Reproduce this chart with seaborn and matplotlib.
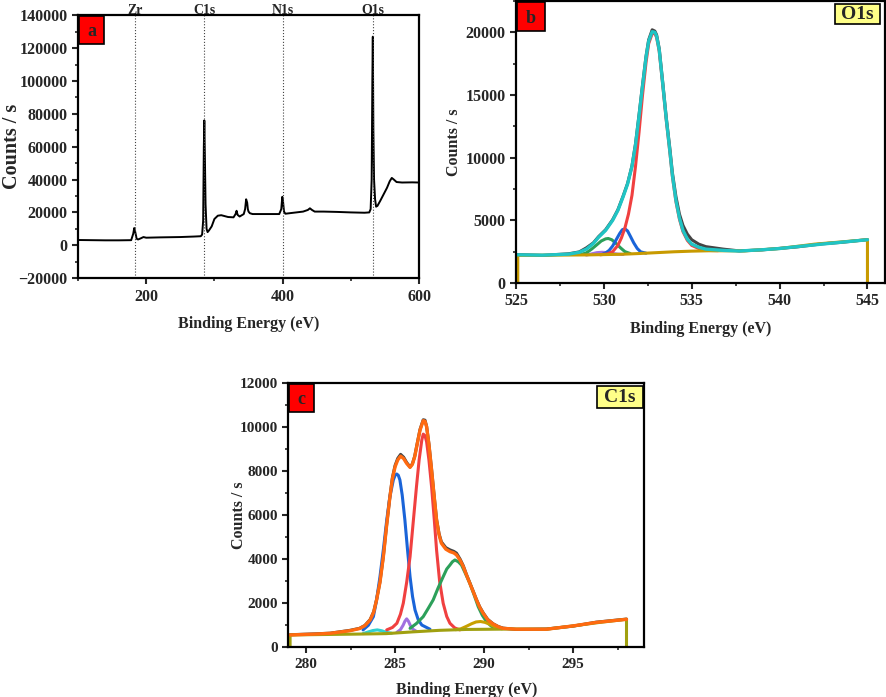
import seaborn as sns
import matplotlib.pyplot as plt
from matplotlib.patches import Rectangle
from matplotlib.ticker import MultipleLocator

# ---- panel a: survey spectrum ----
survey_be = [100, 120, 140, 160, 178, 181, 182.5, 184, 186, 188, 192, 196, 200, 220, 250,
             270, 280, 282, 283.5, 284.5, 285.2, 286, 287, 288.5, 290, 292, 296, 300, 305, 310,
             320, 328, 331, 332.5, 334, 337, 343, 345, 346.5, 348, 349, 350, 352, 356, 370,
             385, 395, 398, 399.5, 400.5, 402, 404, 410, 420, 430, 437, 440, 443, 447, 460,
             480, 500, 520, 527, 529, 530.5, 531.5, 532.2, 533, 534, 535.5, 537, 539, 543, 548,
             553, 557, 560, 563, 567, 575, 590, 600]
survey_cps = [3200, 3100, 3000, 3000, 3100, 7000, 10500, 8000, 4000, 3500, 4200, 5000, 4600, 4800, 5000,
              5300, 5500, 6500, 15000, 60000, 76000, 55000, 25000, 10000, 8000, 9000, 11500, 16000, 18000, 18300,
              17200, 17000, 19000, 21000, 18500, 17500, 19000, 22000, 28000, 26000, 22000, 20500, 19500, 19000, 19000,
              19000, 19000, 22000, 29500, 27000, 20500, 19200, 19500, 20000, 20500, 21500, 22500, 21500, 20500, 20500,
              20300, 20000, 19800, 20000, 22000, 40000, 100000, 127000, 70000, 40000, 28000, 23500, 24000, 27000, 31000,
              35000, 39000, 41000, 40000, 38500, 38200, 38300, 38200]
peak_names = ["Zr", "C1s", "N1s", "O1s"]
peak_pos = [183, 285, 400, 532]

# ---- panel b: O1s ----
o1s_be = [525, 526.5, 528, 528.6, 529, 529.4, 529.7, 530.1, 530.5, 530.8, 531.1, 531.35, 531.6, 531.8,
          532.0, 532.2, 532.4, 532.55, 532.75, 532.9, 533.0, 533.15, 533.35, 533.55, 533.75, 533.9,
          534.1, 534.3, 534.5, 534.75, 535.0, 535.4, 535.8, 536.8, 537.7, 539, 540, 541, 542.4, 543.5, 545]
o1s_env = [2250, 2220, 2300, 2450, 2700, 3150, 3650, 4200, 5000, 5800, 6900, 7900, 9300, 11000,
           13300, 15700, 18000, 19300, 20050, 20000, 19700, 18600, 15900, 13100, 10600, 8600,
           6600, 5200, 4200, 3500, 3100, 2850, 2700, 2600, 2550, 2650, 2750, 2900, 3100, 3250, 3450]
o1s_raw = [2270, 2200, 2330, 2480, 2800, 3200, 3700, 4250, 5050, 5850, 6950, 7950, 9350, 11100,
           13400, 15800, 18100, 19400, 20200, 20100, 19800, 18700, 16000, 13200, 10800, 8800,
           6900, 5500, 4600, 3900, 3450, 3100, 2900, 2700, 2560, 2640, 2760, 2880, 3120, 3240, 3460]
o1s_red_be = [529.8, 530.2, 530.5, 530.8, 531.0, 531.2, 531.4, 531.6, 531.8, 532.0, 532.2, 532.4,
              532.55, 532.75, 532.9, 533.0, 533.15, 533.35, 533.55, 533.75, 533.9, 534.1, 534.3,
              534.5, 534.75, 535.0, 535.4, 535.8, 536.5]
o1s_red = [2250, 2320, 2500, 3000, 3600, 4400, 5500, 7000, 9300, 12000, 15000, 17600,
           19100, 19900, 19900, 19600, 18500, 15800, 13000, 10500, 8500, 6500, 5100,
           4100, 3400, 3000, 2750, 2600, 2580]
o1s_blue_be = [529.9, 530.1, 530.3, 530.5, 530.7, 530.9, 531.05, 531.2, 531.35, 531.5, 531.7, 531.9, 532.1, 532.4]
o1s_blue = [2280, 2400, 2600, 2950, 3450, 3950, 4250, 4320, 4150, 3750, 3200, 2750, 2480, 2380]
o1s_green_be = [528.7, 529.0, 529.3, 529.6, 529.85, 530.1, 530.25, 530.45, 530.7, 530.95, 531.2, 531.5]
o1s_green = [2280, 2400, 2700, 3050, 3350, 3520, 3550, 3450, 3150, 2800, 2500, 2350]
o1s_purple_be = [529.0, 529.3, 529.6, 529.9, 530.2, 530.5, 530.8, 531.1]
o1s_purple = [2230, 2320, 2420, 2450, 2420, 2350, 2300, 2280]
o1s_bg_be = [525.1, 525.1, 527, 529, 531, 532, 533, 534, 535, 536, 537, 538, 540, 542, 545, 545]
o1s_bg = [0, 2200, 2220, 2240, 2290, 2350, 2420, 2490, 2540, 2570, 2570, 2560, 2750, 3100, 3450, 0]

# ---- panel c: C1s ----
c1s_be = [279.1, 280.5, 281.35, 282.47, 283.0, 283.3, 283.6, 283.8, 283.96, 284.15, 284.34, 284.52,
          284.71, 284.85, 285.0, 285.15, 285.31, 285.48, 285.65, 285.84, 285.97, 286.1, 286.25, 286.4,
          286.58, 286.68, 286.77, 286.9, 287.05, 287.2, 287.33, 287.47, 287.6, 287.85, 288.08, 288.3,
          288.45, 288.65, 288.83, 289.0, 289.2, 289.4, 289.57, 289.75, 289.95, 290.2, 290.5, 290.8,
          291.07, 291.8, 293.5, 295.0, 296.3, 298.0]
c1s_env = [560, 600, 635, 755, 850, 980, 1240, 1600, 2150, 2950, 4110, 5500,
           6830, 7650, 8190, 8500, 8670, 8560, 8340, 8160, 8300, 8640, 9250, 9850,
           10280, 10250, 10000, 9200, 8040, 6800, 5770, 5100, 4720, 4450, 4340, 4280,
           4190, 3950, 3660, 3300, 2900, 2500, 2150, 1820, 1540, 1250, 1060, 930,
           860, 820, 820, 970, 1130, 1270]
c1s_raw = [570, 610, 640, 770, 860, 990, 1260, 1620, 2170, 2970, 4130, 5520,
           6850, 7700, 8250, 8570, 8750, 8620, 8380, 8180, 8320, 8660, 9280, 9880,
           10320, 10300, 10020, 9220, 8060, 6820, 5800, 5150, 4780, 4520, 4420, 4350,
           4270, 4000, 3700, 3320, 2920, 2520, 2170, 1840, 1560, 1270, 1070, 940,
           870, 810, 830, 960, 1140, 1280]
c1s_blue_be = [283.2, 283.5, 283.78, 283.95, 284.15, 284.35, 284.53, 284.7, 284.9, 285.0, 285.09,
               285.18, 285.27, 285.4, 285.55, 285.7, 285.84, 285.98, 286.12, 286.3, 286.5, 286.96]
c1s_blue = [790, 1000, 1390, 2100, 3200, 4500, 5770, 6800, 7590, 7800, 7860,
            7800, 7590, 6900, 5770, 4400, 3200, 2300, 1690, 1250, 1010, 820]
c1s_red_be = [284.53, 284.85, 285.1, 285.3, 285.46, 285.65, 285.84, 286.02, 286.2, 286.35, 286.5, 286.58,
              286.68, 286.77, 286.9, 287.05, 287.2, 287.33, 287.5, 287.7, 287.9, 288.08, 288.35, 288.64]
c1s_red = [790, 900, 1090, 1500, 2000, 2950, 4110, 5700, 7280, 8500, 9400, 9670,
           9600, 9320, 8500, 7280, 5800, 4410, 3000, 2000, 1400, 1090, 880, 790]
c1s_green_be = [285.84, 286.2, 286.58, 286.85, 287.14, 287.42, 287.7, 287.9, 288.08, 288.22, 288.36,
                288.55, 288.73, 288.95, 289.2, 289.45, 289.67, 289.9, 290.14, 290.4, 290.7]
c1s_green = [860, 1080, 1390, 1750, 2150, 2700, 3200, 3550, 3730, 3880, 3960,
             3880, 3730, 3350, 2900, 2350, 1840, 1450, 1160, 960, 860]
c1s_purple_be = [285.1, 285.3, 285.45, 285.55, 285.65, 285.75, 285.85, 286.0, 286.2]
c1s_purple = [680, 800, 1000, 1180, 1290, 1180, 1000, 820, 720]
c1s_cyan_be = [283.2, 283.5, 283.75, 284.0, 284.25, 284.5, 284.8]
c1s_cyan = [620, 700, 760, 790, 750, 680, 640]
c1s_gold_be = [288.4, 288.7, 289.0, 289.3, 289.55, 289.8, 290.05, 290.3, 290.6, 291.0]
c1s_gold = [800, 840, 950, 1070, 1150, 1170, 1130, 1050, 930, 840]
c1s_bg_be = [279.1, 279.1, 281, 283, 284.5, 286, 287.5, 289, 290.5, 291.8, 293.5, 295, 296.5, 298, 298]
c1s_bg = [0, 560, 580, 600, 620, 700, 770, 810, 820, 830, 820, 970, 1130, 1270, 0]

sns.set_style("ticks")
plt.rcParams['font.family'] = ['Liberation Serif', 'DejaVu Serif']
plt.rcParams['font.weight'] = 'bold'
plt.rcParams['axes.labelweight'] = 'bold'
plt.rcParams['axes.linewidth'] = 1.6

fig = plt.figure(figsize=(8.86, 6.97), dpi=100)
ax_a = fig.add_axes([0.088, 0.601, 0.385, 0.377])
ax_b = fig.add_axes([0.5824, 0.594, 0.4165, 0.4046])
ax_c = fig.add_axes([0.3254, 0.0713, 0.4018, 0.3796])


def line(ax, x, y, color, lw):
    sns.lineplot(x=x, y=y, ax=ax, color=color, lw=lw, sort=False, estimator=None)


def style(ax, tick_size):
    ax.tick_params(which='major', direction='out', length=4, width=1.5, labelsize=tick_size)
    ax.tick_params(which='minor', direction='out', length=2.5, width=1.2)
    for lab in ax.get_xticklabels() + ax.get_yticklabels():
        lab.set_fontweight('bold')
    for s in ax.spines.values():
        s.set_visible(True)
        s.set_linewidth(1.6)
        s.set_color('black')


def tag(ax, letter, w, h):
    ax.add_patch(Rectangle((0.003, 1 - h - 0.004), w, h, transform=ax.transAxes, fc='#ff0000',
                           ec='black', lw=1.2, clip_on=False, zorder=10))
    ax.text(0.003 + w / 2, 1 - h / 2 - 0.01, letter, transform=ax.transAxes, ha='center', va='center',
            fontsize=13, fontweight='bold', zorder=11)


def label_box(ax, text, x0, w, h):
    ax.add_patch(Rectangle((x0, 1 - h - 0.012), w, h, transform=ax.transAxes, fc='#ffff88',
                           ec='black', lw=1.2, clip_on=False, zorder=10))
    ax.text(x0 + w / 2, 1 - h / 2 - 0.012, text, transform=ax.transAxes, ha='center', va='center',
            fontsize=14, fontweight='bold', zorder=11)


# panel a
line(ax_a, survey_be, survey_cps, 'black', 1.4)
for name, pos in zip(peak_names, peak_pos):
    ax_a.axvline(pos, color='#444444', ls=':', lw=0.8)
    ax_a.text(pos, 141000, name, ha='center', va='baseline', fontsize=10, fontweight='bold')
ax_a.set_xlim(100, 600)
ax_a.set_ylim(-20000, 140000)
ax_a.xaxis.set_major_locator(MultipleLocator(200))
ax_a.xaxis.set_minor_locator(MultipleLocator(100))
ax_a.yaxis.set_major_locator(MultipleLocator(20000))
ax_a.yaxis.set_minor_locator(MultipleLocator(10000))
ax_a.set_xlabel("Binding Energy (eV)", fontsize=11.5, labelpad=8)
ax_a.set_ylabel("Counts / s", fontsize=14.5)
ax_a.yaxis.set_label_coords(-0.165, 0.5)
style(ax_a, 11.5)
tag(ax_a, 'a', 0.073, 0.106)

# panel b
line(ax_b, o1s_be, o1s_raw, '#444444', 2.2)
line(ax_b, o1s_purple_be, o1s_purple, '#a070e0', 2.2)
line(ax_b, o1s_green_be, o1s_green, '#2ca05a', 2.2)
line(ax_b, o1s_blue_be, o1s_blue, '#1a64d8', 2.2)
line(ax_b, o1s_red_be, o1s_red, '#f04040', 2.2)
line(ax_b, o1s_bg_be, o1s_bg, '#c89a00', 2.2)
line(ax_b, o1s_be, o1s_env, '#20c4c4', 2.4)
ax_b.set_xlim(525, 546)
ax_b.set_ylim(0, 22500)
ax_b.xaxis.set_major_locator(MultipleLocator(5))
ax_b.xaxis.set_minor_locator(MultipleLocator(2.5))
ax_b.yaxis.set_major_locator(MultipleLocator(5000))
ax_b.yaxis.set_minor_locator(MultipleLocator(2500))
ax_b.set_xlabel("Binding Energy (eV)", fontsize=11.5, labelpad=8)
ax_b.set_ylabel("Counts / s", fontsize=11.5)
ax_b.yaxis.set_label_coords(-0.146, 0.5)
style(ax_b, 11.5)
tag(ax_b, 'b', 0.075, 0.103)
label_box(ax_b, 'O1s', 0.865, 0.121, 0.071)

# panel c
line(ax_c, c1s_be, c1s_raw, '#444444', 2.2)
line(ax_c, c1s_cyan_be, c1s_cyan, '#30d0d0', 2.2)
line(ax_c, c1s_purple_be, c1s_purple, '#a070e0', 2.2)
line(ax_c, c1s_blue_be, c1s_blue, '#1a64d8', 2.2)
line(ax_c, c1s_red_be, c1s_red, '#f04040', 2.2)
line(ax_c, c1s_green_be, c1s_green, '#2ca05a', 2.2)
line(ax_c, c1s_gold_be, c1s_gold, '#c8a000', 2.2)
line(ax_c, c1s_bg_be, c1s_bg, '#a0a010', 2.2)
line(ax_c, c1s_be, c1s_env, '#ff6a10', 2.4)
ax_c.set_xlim(279, 299)
ax_c.set_ylim(0, 12000)
ax_c.xaxis.set_major_locator(MultipleLocator(5))
ax_c.xaxis.set_minor_locator(MultipleLocator(2.5))
ax_c.yaxis.set_major_locator(MultipleLocator(2000))
ax_c.yaxis.set_minor_locator(MultipleLocator(1000))
ax_c.set_xlabel("Binding Energy (eV)", fontsize=11.5, labelpad=8)
ax_c.set_ylabel("Counts / s", fontsize=11.5)
ax_c.yaxis.set_label_coords(-0.115, 0.5)
style(ax_c, 11)
tag(ax_c, 'c', 0.07, 0.106)
label_box(ax_c, 'C1s', 0.866, 0.131, 0.084)

fig.savefig("out.png", dpi=100)
